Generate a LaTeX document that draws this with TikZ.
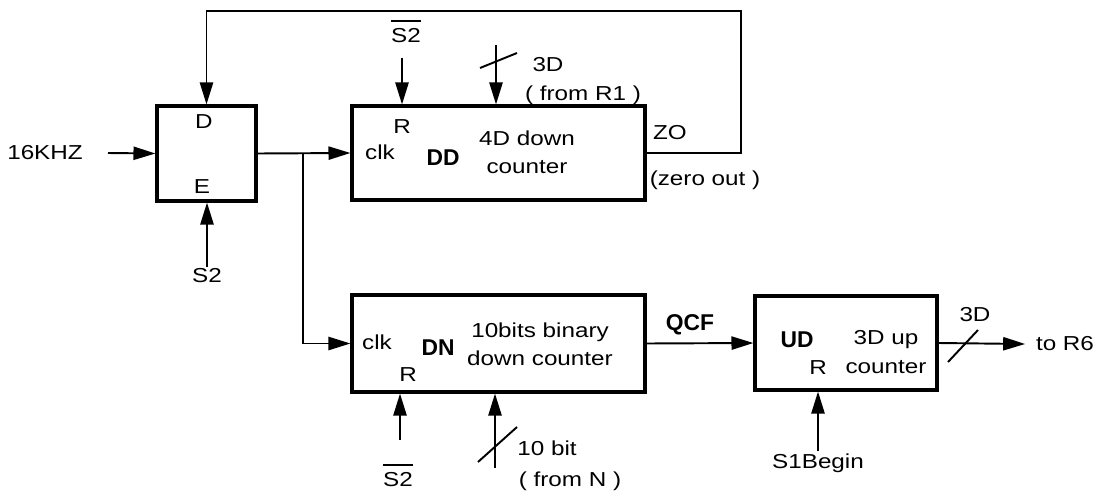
\documentclass[tikz,border=0pt]{standalone}
\usepackage{fontspec}
\setmainfont{Liberation Sans}[FakeStretch=1.2]
\newfontfamily\tagfont{Liberation Sans}
\usetikzlibrary{positioning,arrows.meta,calc}
\newcommand{\ovl}[1]{\leavevmode\vbox{\hrule height 1.4pt\kern 3.5pt\hbox{#1}}}

\begin{document}
\begin{tikzpicture}[x=0.02cm, y=-0.02cm,
  font=\fontsize{11.5}{16}\selectfont,
  blk/.style={draw, line width=1.8pt, inner sep=0pt},
  sig/.style={inner sep=1pt},
  lbl/.style={inner sep=1pt, align=center},
  tag/.style={inner sep=1pt, font={\tagfont\fontsize{13}{15}\selectfont\bfseries}},
  wire/.style={line width=1.1pt},
  arr/.style={wire, -{Triangle[length=12.5pt,width=7.5pt]}},
]
\useasboundingbox (0,0) rectangle (1098,497);

% ---------- blocks ----------
\node[blk, minimum width=1.98cm, minimum height=1.9cm] (gate) at (206.5,153.5) {};
\node[blk, minimum width=5.86cm, minimum height=1.88cm] (dd) at (498.5,153) {};
\node[blk, minimum width=5.86cm, minimum height=1.94cm] (dn) at (498.5,343.5) {};
\node[blk, minimum width=3.64cm, minimum height=1.88cm] (ud) at (846,343) {};

% ---------- gate ----------
\node[sig] (gd) at (204,122) {D};
\node[sig] (ge) at (202,187) {E};
\node[sig] (khz) at (45,153) {16KHZ};
\coordinate (khzin) at (108,153);
\draw[arr] (khzin) -- (gate.west);
\node[sig] (s2e) at (207,276) {S2};
\draw[arr] (s2e.north) -- (s2e.north |- gate.south);

% ---------- DD: 4D down counter ----------
\node[sig] (ddr) at (402,127) {R};
\node[sig] (ddclk) at (380,152) {clk};
\node[tag] (ddtag) at (443,158) {DD};
\node[lbl] (ddtxt) at (527,152) {4D down\\counter};
\draw[arr] (gate.east) -- (dd.west);
\node[sig] (s2d) at (406,31) {\ovl{S2}};
\coordinate (rdd) at (402,58);
\draw[arr] (rdd) -- (rdd |- dd.north);
\coordinate (bdd) at (496,45);
\draw[arr] (bdd) -- (bdd |- dd.north);
\draw[wire] (480,68) -- (517,53);
\node[sig] (b3d) at (548,65) {3D};
\node[sig] (fr1) at (583,95) {( from R1 )};
% zero out back to D
\coordinate (fbr) at (741,11);
\draw[arr] (dd.east) -| (fbr) -| (gate.north);
\node[sig] (zo) at (670,133) {ZO};
\node[sig] (zout) at (705,180) {(zero out )};

% ---------- DN: 10bits down counter ----------
\coordinate (split) at (303,153);
\draw[arr] (split) |- (dn.west);
\node[sig] (dnclk) at (377,342) {clk};
\node[sig] (dnr) at (408,375) {R};
\node[tag] (dntag) at (438,348) {DN};
\node[lbl] (dntxt) at (540,344) {10bits binary\\down counter};
\node[sig] (s2n) at (398,475) {\ovl{S2}};
\coordinate (rdn) at (400,440);
\draw[arr] (rdn) -- (rdn |- dn.south);
\coordinate (bdn) at (495,468);
\draw[arr] (bdn) -- (bdn |- dn.south);
\draw[wire] (478,462) -- (517,427);
\node[sig] (b10) at (547,448) {10 bit};
\node[sig] (frn) at (570,481) {( from N )};

% ---------- UD: 3D up counter ----------
\draw[arr] (dn.east) -- (ud.west);
\node[tag] (qcf) at (690,325) {QCF};
\node[tag] (udtag) at (797,340) {UD};
\node[sig] (udr) at (818,368) {R};
\node[lbl] (udtxt) at (886,352) {3D up\\counter};
\node[sig] (s1b) at (818,463) {S1Begin};
\draw[arr] (s1b.north) -- (s1b.north |- ud.south);
\node[sig, inner xsep=6pt] (r6) at (1065,344) {to R6};
\draw[arr] (ud.east) -- (r6.west);
\draw[wire] (948,362) -- (978,330);
\node[sig] (o3d) at (975,315) {3D};
\end{tikzpicture}
\end{document}
